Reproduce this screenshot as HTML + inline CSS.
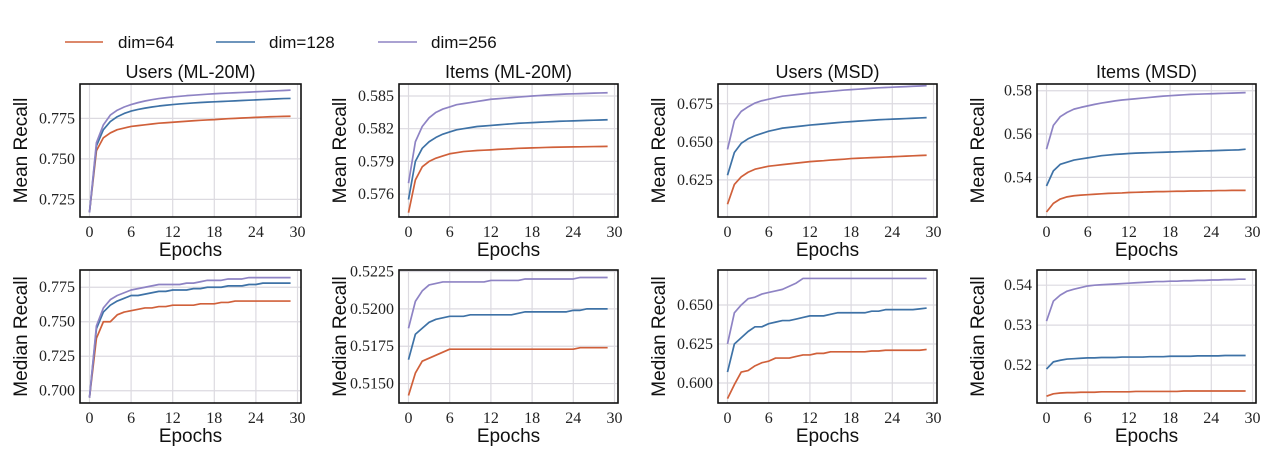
<!DOCTYPE html>
<html><head><meta charset="utf-8">
<style>
html,body{margin:0;padding:0;background:#fff;}
svg{display:block;}
.tick{font-family:"Liberation Serif",serif;font-size:16px;fill:#222;}
.lab{font-family:"Liberation Sans",sans-serif;font-size:19px;fill:#111;}
.ttl{font-family:"Liberation Sans",sans-serif;font-size:18px;fill:#111;}
.leg{font-family:"Liberation Sans",sans-serif;font-size:17px;fill:#111;}
</style></head>
<body>
<svg id="chart" width="1280" height="472" viewBox="0 0 1280 472" xmlns="http://www.w3.org/2000/svg">
<g>
<line x1="65" y1="42" x2="103" y2="42" stroke="#d0603a" stroke-width="1.6"/>
<text class="leg" x="118" y="48">dim=64</text>
<line x1="216" y1="42" x2="255" y2="42" stroke="#3e72a6" stroke-width="1.6"/>
<text class="leg" x="269" y="48">dim=128</text>
<line x1="378" y1="42" x2="417" y2="42" stroke="#8e83c4" stroke-width="1.6"/>
<text class="leg" x="431" y="48">dim=256</text>
</g>
</svg>
<script>
const epochs = Array.from({length:30},(_, i)=>i);
const xTicks = [0,6,12,18,24,30];
const seriesNames = ["dim=64","dim=128","dim=256"];
const colors = ["#d0603a","#3e72a6","#8e83c4"];

const p1_d64 = [.717,.755,.763,.766,.768,.769,.770,.7705,.771,.7715,.772,.7723,.7726,.7729,.7732,.7735,.7738,.774,.7742,.7745,.7748,.775,.7752,.7754,.7756,.7758,.776,.7761,.7762,.7763];
const p1_d128 = [.717,.758,.768,.773,.776,.778,.7795,.7805,.7813,.782,.7826,.7831,.7835,.7839,.7842,.7845,.7848,.785,.7852,.7854,.7856,.7858,.786,.7862,.7864,.7866,.7868,.787,.7872,.7873];
const p1_d256 = [.717,.760,.771,.777,.780,.782,.7835,.7847,.7857,.7865,.7872,.7877,.7882,.7886,.789,.7893,.7896,.7899,.7902,.7904,.7906,.7908,.791,.7912,.7914,.7916,.7918,.792,.7922,.7924];
const p1_ticks = [0.725,0.750,0.775];

const p2_d64 = [.5743,.5773,.5785,.5790,.5793,.5795,.5797,.5798,.5799,.57995,.5800,.58003,.58006,.5801,.58013,.58016,.5802,.58022,.58024,.58026,.58028,.5803,.58031,.58032,.58033,.58034,.58035,.58036,.58037,.58038];
const p2_d128 = [.5755,.5790,.5802,.5808,.5812,.5815,.5817,.5819,.5820,.5821,.5822,.58225,.5823,.58235,.5824,.58245,.5825,.58253,.58256,.58259,.58262,.58265,.58268,.5827,.58272,.58274,.58276,.58278,.5828,.58282];
const p2_d256 = [.5770,.5808,.5822,.5830,.5835,.5838,.5840,.5842,.5843,.5844,.5845,.5846,.5847,.58475,.5848,.58485,.5849,.58495,.5850,.58504,.58508,.58512,.58515,.58518,.5852,.58522,.58524,.58526,.58528,.5853];
const p2_ticks = [0.576,0.579,0.582,0.585];

const p3_d64 = [.609,.622,.627,.630,.632,.633,.634,.6345,.635,.6355,.636,.6365,.637,.6373,.6376,.638,.6383,.6386,.639,.6392,.6394,.6396,.6398,.64,.6402,.6404,.6406,.6408,.641,.6412];
const p3_d128 = [.628,.643,.649,.652,.654,.6555,.657,.658,.659,.6595,.660,.6605,.661,.6614,.6618,.6622,.6626,.663,.6633,.6636,.6639,.6642,.6645,.6647,.6649,.6651,.6653,.6655,.6657,.6659];
const p3_d256 = [.645,.664,.670,.673,.6755,.677,.678,.679,.680,.6805,.681,.6815,.682,.6824,.6828,.6832,.6836,.684,.6843,.6846,.6849,.6852,.6855,.6857,.6859,.6861,.6863,.6865,.6867,.6869];
const p3_ticks = [0.625,0.650,0.675];

const p4_d64 = [.524,.528,.530,.531,.5315,.5318,.532,.5322,.5324,.5326,.5327,.5328,.533,.5331,.5332,.5333,.5334,.5334,.5335,.5336,.5336,.5337,.5337,.5338,.5338,.5339,.5339,.534,.534,.534];
const p4_d128 = [.536,.543,.546,.547,.548,.5485,.549,.5495,.55,.5503,.5506,.5508,.551,.5512,.5513,.5514,.5515,.5516,.5517,.5518,.5519,.552,.5521,.5522,.5523,.5524,.5525,.5526,.5527,.553];
const p4_d256 = [.553,.564,.568,.570,.5715,.5723,.573,.5737,.5743,.5748,.5753,.5757,.576,.5763,.5766,.5769,.5772,.5775,.5777,.5779,.5781,.5783,.5784,.5785,.5786,.5787,.5788,.5789,.579,.5791];
const p4_ticks = [0.54,0.56,0.58];

const p5_d64 = [.695,.738,.750,.750,.755,.757,.758,.759,.760,.760,.761,.761,.762,.762,.762,.762,.763,.763,.763,.764,.764,.765,.765,.765,.765,.765,.765,.765,.765,.765];
const p5_d128 = [.695,.745,.757,.762,.765,.767,.769,.769,.770,.771,.772,.772,.773,.773,.773,.774,.774,.775,.775,.775,.776,.776,.776,.777,.777,.778,.778,.778,.778,.778];
const p5_d256 = [.695,.747,.760,.766,.769,.771,.773,.774,.775,.776,.777,.777,.777,.777,.778,.778,.779,.780,.780,.780,.781,.781,.781,.782,.782,.782,.782,.782,.782,.782];
const p5_ticks = [0.700,0.725,0.750,0.775];

const p6_d64 = [.5142,.5157,.5165,.5167,.5169,.5171,.5173,.5173,.5173,.5173,.5173,.5173,.5173,.5173,.5173,.5173,.5173,.5173,.5173,.5173,.5173,.5173,.5173,.5173,.5173,.5174,.5174,.5174,.5174,.5174];
const p6_d128 = [.5166,.5183,.5187,.5191,.5193,.5194,.5195,.5195,.5195,.5196,.5196,.5196,.5196,.5196,.5196,.5196,.5197,.5198,.5198,.5198,.5198,.5198,.5198,.5198,.5199,.5199,.5200,.5200,.5200,.5200];
const p6_d256 = [.5187,.5205,.5212,.5216,.5217,.5218,.5218,.5218,.5218,.5218,.5218,.5218,.5219,.5219,.5219,.5219,.5219,.5220,.5220,.5220,.5220,.5220,.5220,.5220,.5220,.5221,.5221,.5221,.5221,.5221];
const p6_ticks = [0.5150,0.5175,0.5200,0.5225];

const p7_d64 = [.590,.599,.607,.608,.611,.613,.614,.616,.616,.616,.617,.618,.618,.619,.619,.620,.620,.620,.620,.620,.620,.6205,.6205,.621,.621,.621,.621,.621,.621,.6215];
const p7_d128 = [.607,.625,.629,.633,.636,.636,.638,.639,.640,.640,.641,.642,.643,.643,.643,.644,.645,.645,.645,.645,.645,.646,.646,.647,.647,.647,.647,.647,.6475,.648];
const p7_d256 = [.625,.645,.650,.654,.655,.657,.658,.659,.660,.662,.664,.667,.667,.667,.667,.667,.667,.667,.667,.667,.667,.667,.667,.667,.667,.667,.667,.667,.667,.667];
const p7_ticks = [0.600,0.625,0.650];

const p8_d64 = [.5122,.5128,.513,.5131,.5131,.5132,.5132,.5132,.5133,.5133,.5133,.5133,.5133,.5134,.5134,.5134,.5134,.5134,.5134,.5134,.5135,.5135,.5135,.5135,.5135,.5135,.5135,.5135,.5135,.5135];
const p8_d128 = [.519,.5208,.5212,.5215,.5216,.5217,.5218,.5218,.5219,.5219,.5219,.522,.522,.522,.522,.5221,.5221,.5221,.5222,.5222,.5222,.5222,.5223,.5223,.5223,.5223,.5224,.5224,.5224,.5224];
const p8_d256 = [.531,.536,.5375,.5385,.539,.5394,.5398,.54,.5401,.5402,.5403,.5404,.5405,.5406,.5407,.5408,.5409,.5409,.541,.541,.5411,.5411,.5412,.5412,.5413,.5413,.5414,.5414,.5415,.5415];
const p8_ticks = [0.52,0.53,0.54];

const NS = "http://www.w3.org/2000/svg";
const svg = document.getElementById("chart");
function mk(tag, attrs, parent){
  const e = document.createElementNS(NS, tag);
  for (const k in attrs) e.setAttribute(k, attrs[k]);
  parent.appendChild(e);
  return e;
}
const panels = [
  {name:"users-ml20m-mean", title:"Users (ML-20M)", ylab:"Mean Recall", x:80, y:84, w:221, h:133, dom:[0.7141,0.7962], ticks:p1_ticks, dec:3, s:[p1_d64,p1_d128,p1_d256]},
  {name:"items-ml20m-mean", title:"Items (ML-20M)", ylab:"Mean Recall", x:399, y:84, w:219, h:133, dom:[0.5739,0.5861], ticks:p2_ticks, dec:3, s:[p2_d64,p2_d128,p2_d256]},
  {name:"users-msd-mean", title:"Users (MSD)", ylab:"Mean Recall", x:718, y:84, w:219, h:133, dom:[0.6006,0.688], ticks:p3_ticks, dec:3, s:[p3_d64,p3_d128,p3_d256]},
  {name:"items-msd-mean", title:"Items (MSD)", ylab:"Mean Recall", x:1037, y:84, w:219, h:133, dom:[0.5217,0.5831], ticks:p4_ticks, dec:2, s:[p4_d64,p4_d128,p4_d256]},
  {name:"users-ml20m-median", title:"", ylab:"Median Recall", x:80, y:270, w:221, h:133, dom:[0.6911,0.7875], ticks:p5_ticks, dec:3, s:[p5_d64,p5_d128,p5_d256]},
  {name:"items-ml20m-median", title:"", ylab:"Median Recall", x:399, y:270, w:219, h:133, dom:[0.5137,0.5226], ticks:p6_ticks, dec:4, s:[p6_d64,p6_d128,p6_d256]},
  {name:"users-msd-median", title:"", ylab:"Median Recall", x:718, y:270, w:219, h:133, dom:[0.5872,0.6724], ticks:p7_ticks, dec:3, s:[p7_d64,p7_d128,p7_d256]},
  {name:"items-msd-median", title:"", ylab:"Median Recall", x:1037, y:270, w:219, h:133, dom:[0.5105,0.5438], ticks:p8_ticks, dec:2, s:[p8_d64,p8_d128,p8_d256]}
];
panels.forEach(p=>{
  const g = mk("g", {}, svg);
  
  
  const x0 = p.x + 9.5, x1 = p.x + p.w - 3.5;
  const xs = v => x0 + (v/30)*(x1-x0);
  const ys = v => p.y + p.h - (v - p.dom[0])/(p.dom[1]-p.dom[0])*p.h;
  // grid
  xTicks.forEach(t=>{
    const l = mk("line", {x1:xs(t), x2:xs(t), y1:p.y, y2:p.y+p.h, stroke:"#dcdae0", "stroke-width":1.2}, g);
    
    
    const tx = mk("text", {x:xs(t), y:p.y+p.h+20, "text-anchor":"middle", class:"tick"}, g);
    
    
    tx.textContent = t;
  });
  p.ticks.forEach(t=>{
    const l = mk("line", {x1:p.x, x2:p.x+p.w, y1:ys(t), y2:ys(t), stroke:"#dcdae0", "stroke-width":1.2}, g);
    
    
    const tx = mk("text", {x:p.x-5, y:ys(t)+5, "text-anchor":"end", class:"tick"}, g);
    
    
    tx.textContent = t.toFixed(p.dec);
  });
  p.s.forEach((arr, si)=>{
    const d = arr.map((v,i)=>(i?"L":"M")+xs(epochs[i]).toFixed(2)+","+ys(v).toFixed(2)).join(" ");
    const path = mk("path", {d:d, fill:"none", stroke:colors[si], "stroke-width":1.7, "stroke-linejoin":"round"}, g);
    
    
  });
  const box = mk("rect", {x:p.x, y:p.y, width:p.w, height:p.h, fill:"none", stroke:"#111", "stroke-width":1.6}, g);
  
  
  if (p.title) {
    const tt = mk("text", {x:p.x+p.w/2, y:p.y-6, "text-anchor":"middle", class:"ttl"}, g);
    
    
    tt.textContent = p.title;
  }
  const xl = mk("text", {x:p.x+p.w/2, y:p.y+p.h+39, "text-anchor":"middle", class:"lab"}, g);
  
  
  xl.textContent = "Epochs";
  const cy = p.y + p.h/2;
  const lx = p.x - 53;
  const yl = mk("text", {x:lx, y:cy, "text-anchor":"middle", class:"lab", transform:"rotate(-90 "+lx+" "+cy+")"}, g);
  
  
  yl.textContent = p.ylab;
});
</script>
</body></html>
